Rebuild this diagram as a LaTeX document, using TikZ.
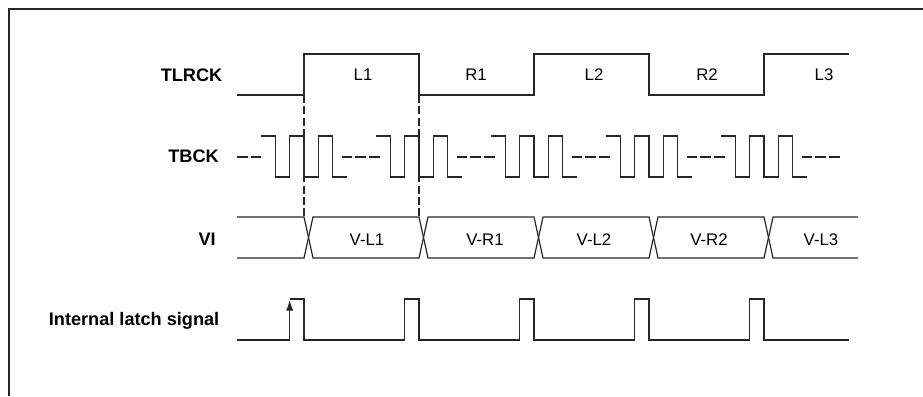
\documentclass[tikz,border=0pt]{standalone}
\usepackage{fontspec}
\setmainfont{Liberation Sans}
\usetikzlibrary{arrows.meta}
\begin{document}
\begin{tikzpicture}[x=0.75pt,y=-0.75pt,
  sig/.style={line width=0.9pt, draw=black!85, line join=miter},
  frameline/.style={line width=1.3pt, draw=black!85},
  vdash/.style={line width=0.9pt, draw=black!85, dash pattern=on 6pt off 2.5pt},
  tdash/.style={line width=0.9pt, draw=black!85, dash pattern=on 8pt off 2.25pt},
  siglabel/.style={inner sep=0pt, anchor=base east, font=\fontsize{13.6}{16}\selectfont\bfseries},
  slotlabel/.style={inner sep=0pt, anchor=base, font=\fontsize{12.6}{15}\selectfont}]
\useasboundingbox (0,0) rectangle (923,396);
% frame (top and left edges)
\draw[frameline] (9,396) -- (9,9) -- (923,9);

% signal names
\node[siglabel] (ltlrck) at (222.5,81.7) {TLRCK};
\node[siglabel] (ltbck) at (219,162.7) {TBCK};
\node[siglabel] (lvi) at (216,245) {VI};
\node[siglabel] (llatch) at (219.5,325) {Internal latch signal};

% TLRCK
\draw[sig] (237,95) -- (304,95) -- (304,54) -- (419,54) -- (419,95) -- (534,95) -- (534,54) -- (649,54) -- (649,95) -- (764,95) -- (764,54) -- (849,54);
\node[slotlabel] (tl1) at (363,80.7) {L1};
\node[slotlabel] (tr1) at (476,80.7) {R1};
\node[slotlabel] (tl2) at (594,80.7) {L2};
\node[slotlabel] (tr2) at (707,80.7) {R2};
\node[slotlabel] (tl3) at (824,80.7) {L3};

% TBCK
\draw[tdash] (237,157) -- (261.3,157);
\foreach \E in {304,419,534,649,764} {
  \draw[sig] (\E-43,136) -- (\E-28.7,136) -- (\E-28.7,177) -- (\E-14.3,177) -- (\E-14.3,136) -- (\E,136) -- (\E,177) -- (\E+14.3,177) -- (\E+14.3,136) -- (\E+28.7,136) -- (\E+28.7,177) -- (\E+43,177);
  \draw[tdash] (\E+37.7,157) -- (\E+76,157);
}

% dashed alignment lines
\draw[vdash] (304,95) -- (304,217);
\draw[vdash] (419,95) -- (419,217);

% VI bus
\draw[sig] (237,217) -- (304,217) -- (313,258) -- (419,258) -- (428,217) -- (534,217) -- (543,258) -- (649,258) -- (658,217) -- (764,217) -- (773,258) -- (858,258);
\draw[sig] (237,258) -- (304,258) -- (313,217) -- (419,217) -- (428,258) -- (534,258) -- (543,217) -- (649,217) -- (658,258) -- (764,258) -- (773,217) -- (858,217);
\node[slotlabel] (vl1) at (367,245) {V-L1};
\node[slotlabel] (vr1) at (485,245) {V-R1};
\node[slotlabel] (vl2) at (594,245) {V-L2};
\node[slotlabel] (vr2) at (709,245) {V-R2};
\node[slotlabel] (vl3) at (821,245) {V-L3};

% Internal latch signal
\draw[sig] (237,340) -- (289.7,340);
\draw[sig] (289.7,299) -- (304,299) -- (304,340) -- (404.7,340) -- (404.7,299) -- (419,299) -- (419,340)
  -- (519.7,340) -- (519.7,299) -- (534,299) -- (534,340)
  -- (634.7,340) -- (634.7,299) -- (649,299) -- (649,340)
  -- (749.7,340) -- (749.7,299) -- (764,299) -- (764,340) -- (849,340);
\draw[sig,-{Latex[length=8pt,width=5.5pt]}] (289.7,340) -- (289.7,300);
\end{tikzpicture}
\end{document}
